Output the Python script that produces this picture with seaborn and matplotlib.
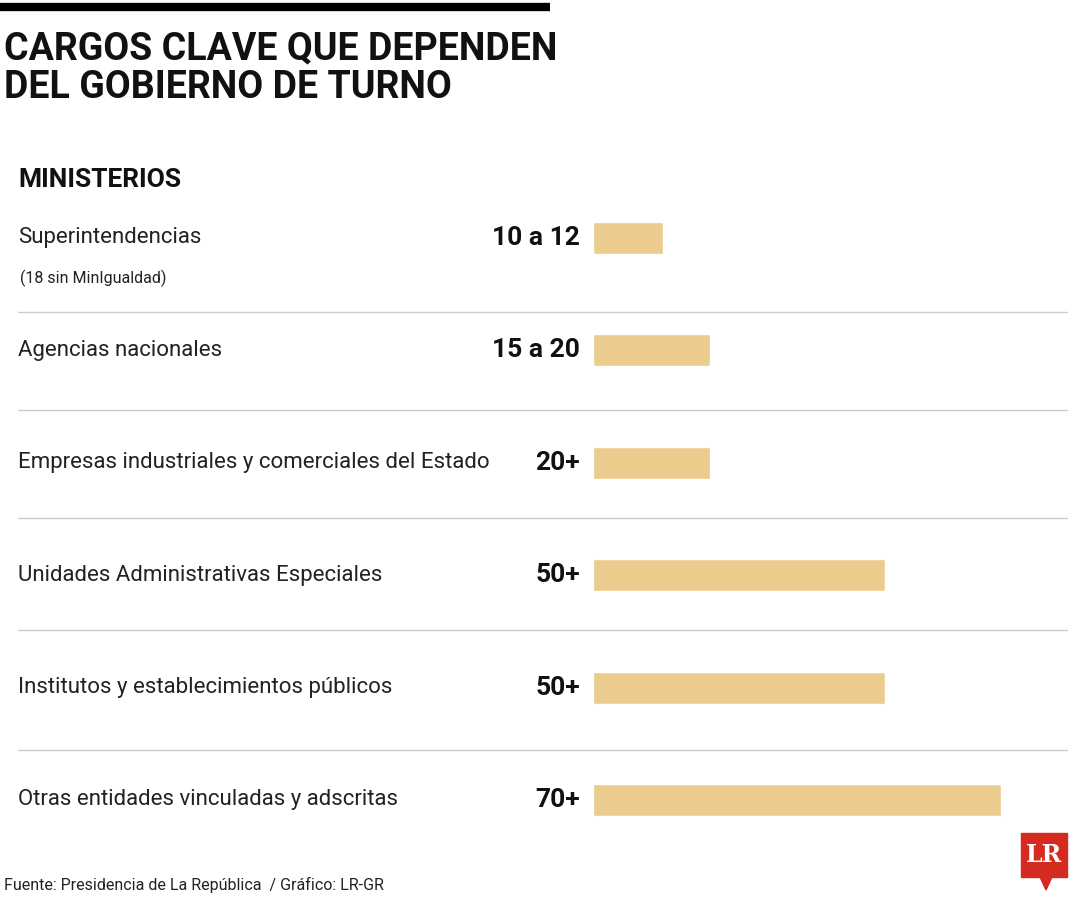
import matplotlib
matplotlib.use('Agg')
import matplotlib.pyplot as plt
import seaborn as sns
import pandas as pd
from matplotlib.patches import Rectangle, Polygon
from matplotlib.lines import Line2D

# Data
categorias = ['Superintendencias', 'Agencias nacionales',
              'Empresas industriales y comerciales del Estado',
              'Unidades Administrativas Especiales',
              'Institutos y establecimientos públicos',
              'Otras entidades vinculadas y adscritas']
valores = [12, 20, 20, 50, 50, 70]
etiquetas = ['10 a 12', '15 a 20', '20+', '50+', '50+', '70+']

sns.set_theme(style='white')
plt.rcParams['font.family'] = ['Roboto', 'DejaVu Sans']

W, H = 1080, 900
fig = plt.figure(figsize=(W / 100, H / 100), dpi=100)

def fx(x): return x / W
def fy(y): return 1 - y / H

# bars axes: rows centred at 238..800 px, bar start at x=593
step = (800 - 238) / 5
top, bot = 238 - step / 2, 800 + step / 2
ax = fig.add_axes([fx(593), fy(bot), fx(W - 593), (bot - top) / H])
df = pd.DataFrame({'cat': categorias, 'val': valores})
sns.barplot(data=df, y='cat', x='val', orient='h', color='#EBCB8E',
            saturation=1, width=32 / step, ax=ax)
ax.set_xlim(0, (W - 593) / 5.83)
ax.set_ylim(5.5, -0.5)
ax.axis('off')

# top rule and title
fig.add_artist(Line2D([0, fx(550)], [fy(7), fy(7)], color='black', lw=6,
                      solid_capstyle='butt'))
fig.text(fx(4), fy(68), 'CARGOS CLAVE QUE DEPENDEN\nDEL GOBIERNO DE TURNO',
         fontsize=27, fontweight='bold', va='center', ha='left', linespacing=1.05,
         color='#111111')
fig.text(fx(18), fy(180), 'MINISTERIOS', fontsize=19, fontweight='bold', va='center',
         color='#111111')

for i, (c, e) in enumerate(zip(categorias, etiquetas)):
    y = 238 + i * step
    fig.text(fx(18), fy(y), c, fontsize=16, va='center', ha='left', color='#222222')
    fig.text(fx(580), fy(y), e, fontsize=19, fontweight='bold', va='center', ha='right',
             color='#111111')
fig.text(fx(20), fy(278), '(18 sin MinIgualdad)', fontsize=11.5, va='center', color='#222222')

for y in [312, 410, 518, 630, 750]:
    fig.add_artist(Line2D([fx(18), fx(1067)], [fy(y), fy(y)], color='#cccccc', lw=1))

fig.text(fx(4), fy(885), 'Fuente: Presidencia de La República  / Gráfico: LR-GR',
         fontsize=11.5, va='center', color='#222222')

# logo
fig.add_artist(Rectangle((fx(1021), fy(877)), fx(46), 44 / H, color='#D42A20'))
fig.add_artist(Polygon([[fx(1040), fy(877)], [fx(1052), fy(877)], [fx(1046), fy(890)]],
                       color='#D42A20'))
fig.text(fx(1044), fy(855), 'LR', fontsize=17, fontweight='bold', color='white',
         family='DejaVu Serif', ha='center', va='center')

fig.savefig('out.png', dpi=100)
